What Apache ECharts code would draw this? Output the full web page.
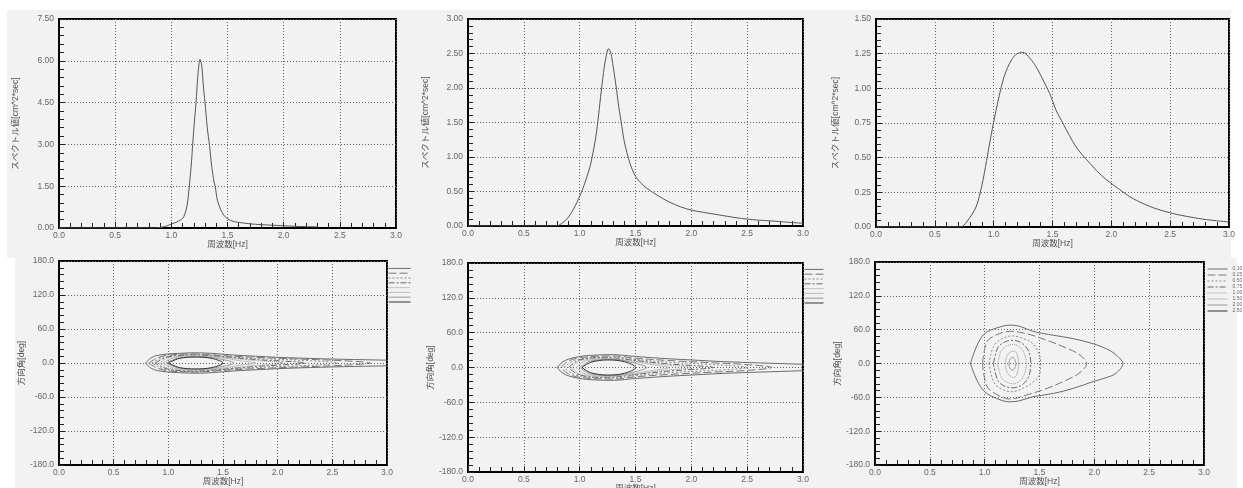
<!DOCTYPE html>
<html><head><meta charset="utf-8">
<script src="https://cdn.jsdelivr.net/npm/echarts@6/dist/echarts.min.js"></script>
<style>html,body{margin:0;padding:0;background:#fff;}#c{width:1243px;height:488px;}</style>
</head><body><div id="c"></div>
<script>
// ---------- data ----------
const freqRange = [0, 3, 0.5];           // min, max, interval (Hz)
const specRanges = [[0, 7.5, 1.5], [0, 3, 0.5], [0, 1.5, 0.25]];
const dirRange = [-180, 180, 60];
const xName = '周波数[Hz]';
const specName = 'スペクトル値[cm^2*sec]';
const dirName = '方向角[deg]';
const levels = ['0.10', '0.25', '0.50', '0.75', '1.00', '1.50', '2.00', '2.50'];

const spec1 = [[0,0],[0.5,0],[0.85,0],[0.9,0.02],[0.95,0.06],[1.0,0.14],[1.05,0.22],[1.1,0.34],[1.12,0.5],
  [1.14,0.8],[1.16,1.5],[1.18,2.4],[1.19,3.0],[1.205,3.8],[1.22,4.5],[1.235,5.4],[1.255,6.05],[1.27,5.85],
  [1.285,5.1],[1.3,4.5],[1.32,3.6],[1.34,2.95],[1.36,2.2],[1.38,1.65],[1.39,1.5],[1.41,1.0],[1.44,0.65],
  [1.47,0.45],[1.5,0.33],[1.55,0.24],[1.6,0.2],[1.7,0.15],[1.8,0.12],[1.9,0.1],[2.0,0.08],[2.1,0.06],
  [2.2,0.05],[2.3,0.04]];
const spec2 = [[0,0],[0.5,0],[0.79,0],[0.85,0.05],[0.9,0.13],[0.95,0.26],[1.0,0.43],[1.05,0.64],[1.1,0.91],
  [1.15,1.35],[1.2,2.05],[1.23,2.4],[1.26,2.57],[1.28,2.5],[1.3,2.31],[1.33,1.98],[1.35,1.73],[1.38,1.42],
  [1.4,1.22],[1.45,0.91],[1.5,0.72],[1.55,0.62],[1.6,0.55],[1.7,0.44],[1.8,0.35],[1.9,0.28],[2.0,0.23],
  [2.1,0.2],[2.25,0.16],[2.4,0.12],[2.5,0.1],[2.6,0.085],[2.75,0.07],[2.9,0.05],[3.0,0.04]];
const spec3 = [[0,0],[0.5,0],[0.72,0],[0.77,0.036],[0.85,0.144],[0.9,0.3],[0.94,0.48],[0.98,0.67],[1.02,0.84],
  [1.08,1.06],[1.135,1.18],[1.19,1.245],[1.25,1.26],[1.305,1.22],[1.36,1.156],[1.42,1.06],[1.476,0.963],
  [1.53,0.843],[1.59,0.746],[1.7,0.578],[1.82,0.457],[1.93,0.361],[2.04,0.289],[2.16,0.217],[2.27,0.169],
  [2.38,0.132],[2.53,0.096],[2.67,0.072],[2.81,0.053],[3.0,0.036]];

// contours: [freq, upper deg, lower deg (magnitude)]
const contour4 = [
  [[0.79,0,0],[0.85,10,10],[0.95,15,15],[1.1,17,17],[1.25,18,18],[1.4,17,17],[1.6,14,14],[1.8,12,12],[2.0,10,10],[2.3,8,8],[2.6,6.5,6.5],[3.0,5,5],[3.2,4,4]],
  [[0.82,0,0],[0.9,9,9],[1.0,14,14],[1.25,16,16],[1.5,13,13],[1.8,10,10],[2.2,7,7],[2.6,4,4],[2.85,0,0]],
  [[0.85,0,0],[0.95,10,10],[1.1,14,14],[1.3,15,15],[1.5,12,12],[1.8,8,8],[2.2,5,5],[2.55,0,0]],
  [[0.88,0,0],[1.0,11,11],[1.25,14,14],[1.5,11,11],[1.8,6,6],[2.25,0,0]],
  [[0.92,0,0],[1.0,9,9],[1.25,13,13],[1.5,10,10],[1.75,5,5],[2.05,0,0]],
  [[0.95,0,0],[1.05,9,9],[1.25,12,12],[1.5,9,9],[1.65,4,4],[1.8,0,0]],
  [[0.98,0,0],[1.1,9,9],[1.3,11,11],[1.5,6,6],[1.6,0,0]],
  [[1.0,0,0],[1.1,8,8],[1.25,10.5,10.5],[1.4,8,8],[1.5,0,0]]
];
const contour5 = [
  [[0.8,0,0],[0.85,10,10],[0.95,17,17],[1.1,21,21],[1.3,22,22],[1.5,19,19],[1.8,15,15],[2.0,13,13],[2.3,10,10],[2.6,8,8],[3.0,5.5,5.5],[3.2,4,4]],
  [[0.83,0,0],[0.9,11,11],[1.0,17,17],[1.3,20,20],[1.5,16,16],[1.8,12,12],[2.2,8,8],[2.5,5,5],[2.72,0,0]],
  [[0.86,0,0],[0.95,12,12],[1.1,17,17],[1.3,18,18],[1.5,14,14],[1.8,9,9],[2.2,5,5],[2.5,0,0]],
  [[0.9,0,0],[1.0,13,13],[1.25,17,17],[1.5,12,12],[1.8,6,6],[2.2,0,0]],
  [[0.93,0,0],[1.0,11,11],[1.25,16,16],[1.5,11,11],[1.75,5,5],[2.0,0,0]],
  [[0.97,0,0],[1.05,11,11],[1.25,15,15],[1.5,10,10],[1.65,5,5],[1.8,0,0]],
  [[1.0,0,0],[1.1,11,11],[1.3,14,14],[1.5,7,7],[1.6,0,0]],
  [[1.02,0,0],[1.1,9,9],[1.25,13,13],[1.4,10,10],[1.5,0,0]]
];
const contour6 = [
  [[0.87,0,0],[0.93,32,30],[1.0,53,50],[1.11,63,62],[1.23,68,68],[1.32,66,66],[1.44,57,59],[1.63,50,53],[1.81,44,44],[1.99,35,32],[2.11,26,25],[2.2,15,17],[2.26,0,0]],
  [[0.98,0,0],[1.02,38,40],[1.11,51,55],[1.23,57,63],[1.38,53,56],[1.57,41,44],[1.75,27,29],[1.87,15,16],[1.93,0,0]],
  [[1.04,0,0],[1.08,30,32],[1.15,43,45],[1.25,49,50],[1.38,42,41],[1.44,35,33],[1.5,15,21],[1.51,0,0]],
  [[1.08,0,0],[1.12,28,30],[1.18,38,40],[1.26,41,43],[1.34,36,38],[1.4,22,24],[1.42,0,0]],
  [[1.12,0,0],[1.15,22,24],[1.2,31,33],[1.26,34,36],[1.32,29,31],[1.36,18,20],[1.38,0,0]],
  [[1.19,0,0],[1.2,12,13],[1.23,20,22],[1.26,22,25],[1.29,19,21],[1.31,0,0]],
  [[1.22,0,0],[1.23,7,8],[1.25,11,12],[1.27,9,10],[1.285,0,0]],
  []
];

// ---------- styles ----------
const FONT = '"Liberation Sans","Noto Sans CJK JP",sans-serif';
const levelStyles = [
  {color:'#6a6a6a', type:'solid'},
  {color:'#777', type:[8,3]},
  {color:'#888', type:[2,2]},
  {color:'#666', type:[6,2,2,2]},
  {color:'#999', type:[1,1]},
  {color:'#bbb', type:'solid'},
  {color:'#999', type:'solid'},
  {color:'#333', type:'solid'}
];
const grids = [
  {left:59, top:19, width:337, height:209},
  {left:468, top:19, width:335, height:207},
  {left:876, top:19, width:353, height:208},
  {left:59, top:261, width:328, height:204},
  {left:468, top:263, width:335, height:209},
  {left:875, top:262, width:329, height:203}
];
const yNameGaps = [39, 38, 36, 27, 28, 26];

function ring(pts) {
  const up = pts.map(p => [p[0], p[1]]);
  const lo = pts.slice().reverse().map(p => [p[0], -p[2]]);
  return up.concat(lo);
}

const xAxes = [], yAxes = [], series = [];
grids.forEach((g, i) => {
  const isSpec = i < 3;
  const yr = isSpec ? specRanges[i] : dirRange;
  xAxes.push({
    type:'value', gridIndex:i, min:freqRange[0], max:freqRange[1], interval:freqRange[2],
    name:xName, nameLocation:'middle', nameGap:11,
    nameTextStyle:{fontFamily:FONT, fontSize:8.5, color:'#555'},
    axisLine:{show:true, onZero:false, lineStyle:{color:'#000', width:2}},
    axisTick:{show:true, inside:true, length:6, lineStyle:{color:'#222', width:1}},
    minorTick:{show:true, splitNumber:5, length:5, lineStyle:{color:'#222', width:1}},
    axisLabel:{show:true, margin:3, fontFamily:FONT, fontSize:8.5, color:'#666',
      formatter:v => v.toFixed(1)},
    splitLine:{show:true, lineStyle:{color:'#666', width:1, type:[1,2]}},
    minorSplitLine:{show:false}
  });
  yAxes.push({
    type:'value', gridIndex:i, min:yr[0], max:yr[1], interval:yr[2],
    name:isSpec ? specName : dirName, nameLocation:'middle', nameGap:yNameGaps[i], nameRotate:90,
    nameTextStyle:{fontFamily:FONT, fontSize:8.5, color:'#555'},
    axisLine:{show:true, onZero:false, lineStyle:{color:'#000', width:2}},
    axisTick:{show:true, inside:true, length:6, lineStyle:{color:'#222', width:1}},
    minorTick:{show:true, splitNumber:5, length:5, lineStyle:{color:'#222', width:1}},
    axisLabel:{show:true, margin:5, fontFamily:FONT, fontSize:8.5, color:'#666',
      formatter:v => isSpec ? v.toFixed(2) : v.toFixed(1)},
    splitLine:{show:true, lineStyle:{color:'#666', width:1, type:[1,2]}},
    minorSplitLine:{show:false}
  });
});

[spec1, spec2, spec3].forEach((d, i) => {
  series.push({
    type:'line', name:'S' + (i + 1), xAxisIndex:i, yAxisIndex:i, data:d,
    symbol:'none', smooth:0.3, clip:true, silent:true,
    lineStyle:{color:'#555', width:1}
  });
});

[contour4, contour5, contour6].forEach((set, k) => {
  set.forEach((pts, j) => {
    series.push({
      type:'line', name:levels[j], xAxisIndex:3 + k, yAxisIndex:3 + k,
      data: pts.length ? ring(pts) : [],
      symbol:'none', smooth:0.35, clip:true, silent:true,
      lineStyle:{color:levelStyles[j].color, type:levelStyles[j].type, width:1}
    });
  });
});

const legendBase = {
  orient:'vertical', itemWidth:22, itemHeight:6, itemGap:0, padding:0,
  selectedMode:false, data:levels,
  itemStyle:{opacity:0},
  lineStyle:{width:1},
  textStyle:{fontFamily:FONT, fontSize:5, lineHeight:6, color:'#666'}
};

const option = {
  animation:false,
  backgroundColor:'#fff',
  graphic:[
    {type:'rect', z:-10, silent:true, shape:{x:7, y:10, width:1224, height:248}, style:{fill:'#f2f2f2'}},
    {type:'rect', z:-10, silent:true, shape:{x:15, y:258, width:1222, height:230}, style:{fill:'#f2f2f2'}}
  ],
  grid: grids.map(g => Object.assign({show:true, backgroundColor:'transparent', borderColor:'#000',
    borderWidth:2, containLabel:false, outerBoundsMode:'none'}, g)),
  xAxis:xAxes, yAxis:yAxes, series:series,
  legend:[
    Object.assign({}, legendBase, {left:388, top:266, formatter:() => ''}),
    Object.assign({}, legendBase, {left:804, top:267, itemWidth:19, formatter:() => ''}),
    Object.assign({}, legendBase, {left:1207, top:266, itemWidth:20})
  ]
};

const chart = echarts.init(document.getElementById('c'), null, {renderer:'canvas'});
chart.setOption(option);
</script>
</body></html>
